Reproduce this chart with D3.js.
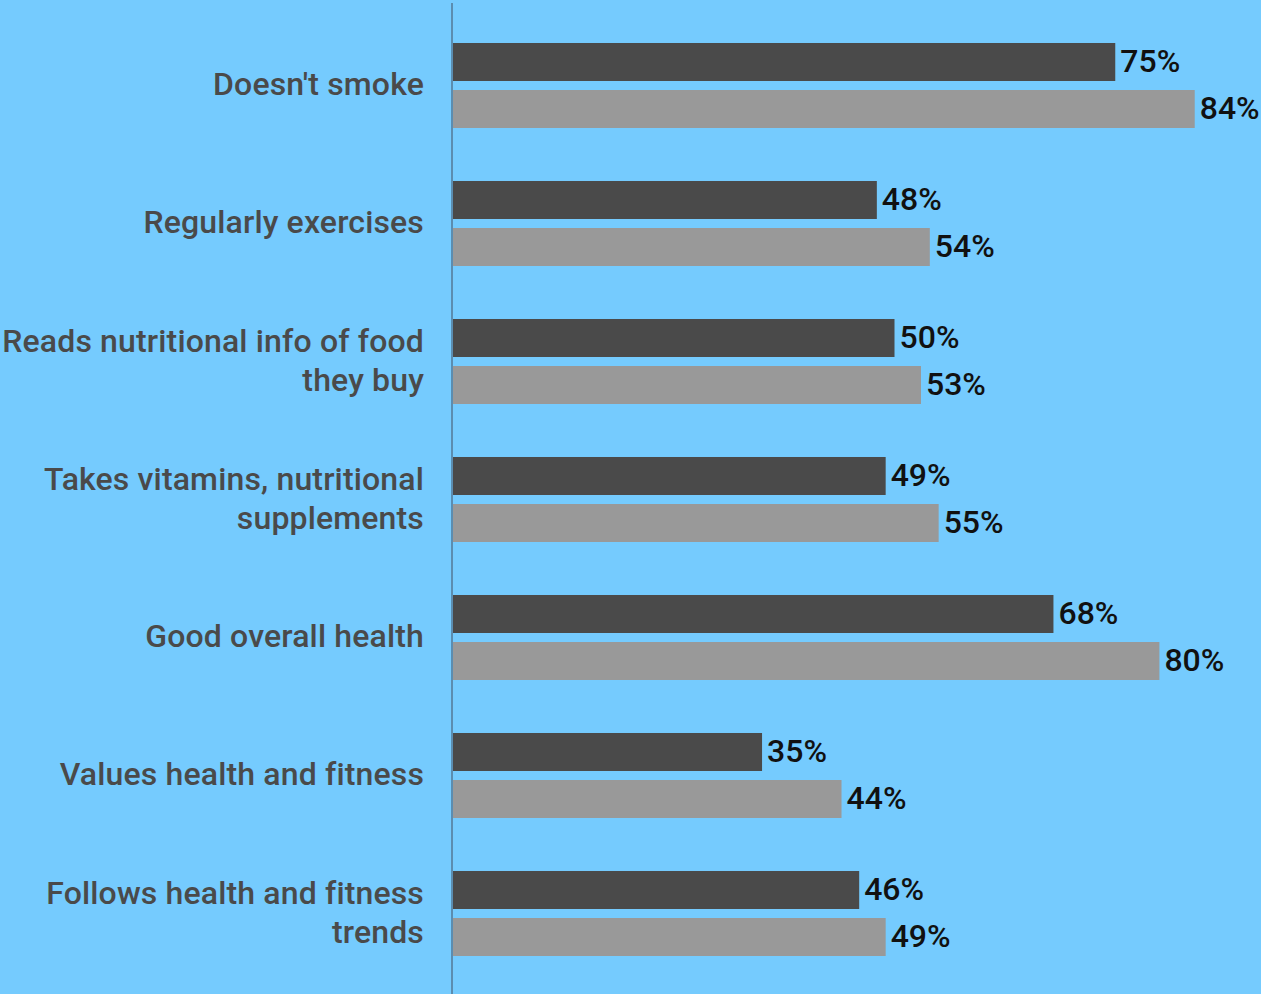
<!DOCTYPE html>
<html>
<head>
<meta charset="utf-8">
<script src="https://cdn.jsdelivr.net/npm/d3@7"></script>
<style>
  html, body { margin: 0; padding: 0; background: #75cbfe; }
  svg { display: block; }
</style>
</head>
<body>
<svg id="chart" width="1261" height="994"></svg>
<script>
// Health habits, share of respondents in two groups
const categories = [
  ["Doesn't smoke"],
  ["Regularly exercises"],
  ["Reads nutritional info of food", "they buy"],
  ["Takes vitamins, nutritional", "supplements"],
  ["Good overall health"],
  ["Values health and fitness"],
  ["Follows health and fitness", "trends"]
];
const seriesNames = ["Group 1", "Group 2"];
const group1 = [75, 48, 50, 49, 68, 35, 46];
const group2 = [84, 54, 53, 55, 80, 44, 49];
const seriesColors = ["#4a4a4a", "#999999"];

const svg = d3.select("#chart");
const W = 1261, H = 994;
const x0 = 453;

const keys = categories.map(c => c.join(" "));
const y = d3.scaleBand().domain(keys).range([16.5, 982.5]).paddingInner(0.384).paddingOuter(0.192);
const ySub = d3.scaleBand().domain(seriesNames).range([0, y.bandwidth()]).paddingInner(0.1915).paddingOuter(0);
const x = d3.scaleLinear().domain([0, 100]).range([x0, x0 + 883]);

const rows = keys.map((k, i) => ({
  key: k,
  lines: categories[i],
  values: [
    { name: seriesNames[0], v: group1[i], color: seriesColors[0] },
    { name: seriesNames[1], v: group2[i], color: seriesColors[1] }
  ]
}));

const g = svg.selectAll("g.row").data(rows).join("g")
  .attr("class", "row")
  .attr("transform", d => `translate(0,${y(d.key)})`);

g.selectAll("rect").data(d => d.values).join("rect")
  .attr("x", x(0))
  .attr("y", d => ySub(d.name))
  .attr("width", d => x(d.v) - x(0))
  .attr("height", ySub.bandwidth())
  .attr("fill", d => d.color);

g.selectAll("text.val").data(d => d.values).join("text")
  .attr("class", "val")
  .attr("x", d => x(d.v) + 5)
  .attr("y", d => ySub(d.name) + ySub.bandwidth() / 2)
  .attr("dy", "0.3em")
  .attr("font-family", "Roboto")
  .attr("font-weight", 500)
  .attr("font-size", 32)
  .attr("fill", "#111")
  .text(d => d.v + "%");

// category labels, right-aligned against the axis
const lineH = 38.5;
g.append("text")
  .attr("class", "cat")
  .attr("text-anchor", "end")
  .attr("font-family", "Roboto")
  .attr("font-weight", 500)
  .attr("font-size", 32)
  .attr("letter-spacing", 0.15)
  .attr("fill", "#4a4a4a")
  .each(function(d) {
    const t = d3.select(this);
    const n = d.lines.length;
    const mid = y.bandwidth() / 2;
    d.lines.forEach((ln, j) => {
      t.append("tspan")
        .attr("x", 424)
        .attr("y", mid + (j - (n - 1) / 2) * lineH)
        .attr("dy", "0.31em")
        .text(ln);
    });
  });

// vertical axis line
svg.append("line")
  .attr("x1", 452).attr("x2", 452)
  .attr("y1", 3).attr("y2", H)
  .attr("stroke", "#5b8db0")
  .attr("stroke-width", 2);
</script>
</body>
</html>
